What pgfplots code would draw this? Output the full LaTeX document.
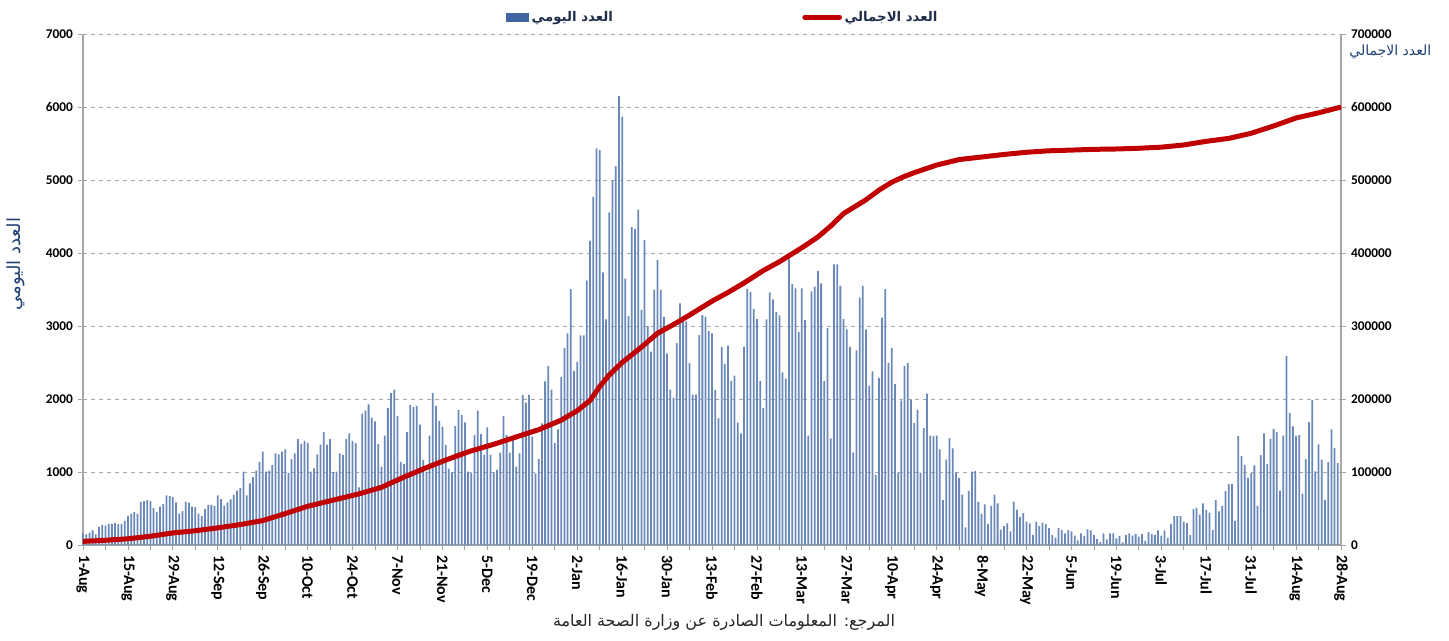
\documentclass[border=0pt]{standalone}
\usepackage{pgfplots}
\usepackage{pgfplotstable}
\pgfplotsset{compat=1.18}
\usepackage{fontspec}
\setmainfont{Carlito}
\newfontfamily\arabicfont[Script=Arabic]{DejaVu Sans}
\TeXXeTstate=1
\definecolor{barblue}{HTML}{6A88B8}
\definecolor{legblue}{HTML}{3F65A0}
\definecolor{linered}{HTML}{C00000}
\definecolor{labblue}{HTML}{1F3F73}
\definecolor{labdark}{HTML}{1F2D4A}
\definecolor{gridgray}{HTML}{A6A6A6}

% daily counts, 1-Aug-2020 ... 28-Aug-2021 (393 days)
\pgfplotstableread[row sep=\\]{
v\\
160\\146\\170\\200\\146\\250\\275\\265\\290\\290\\
300\\290\\290\\330\\400\\430\\450\\425\\590\\600\\
615\\600\\505\\450\\525\\560\\680\\670\\655\\585\\
430\\465\\590\\580\\525\\520\\430\\400\\490\\550\\
550\\535\\680\\630\\540\\585\\625\\685\\745\\780\\
1005\\680\\845\\930\\1020\\1140\\1280\\1005\\1020\\1095\\
1255\\1240\\1280\\1310\\985\\1175\\1255\\1450\\1385\\1425\\
1400\\1005\\1050\\1240\\1375\\1545\\1375\\1450\\
1000\\
1005\\1255\\1235\\1450\\1530\\1425\\1395\\790\\1800\\1840\\
1925\\1745\\1695\\1385\\1075\\1500\\1880\\2080\\2130\\1765\\
1140\\1110\\1545\\1920\\1890\\1905\\1650\\1165\\1005\\1500\\
2080\\1905\\1700\\1620\\1370\\1045\\990\\1630\\1850\\1780\\
1680\\1005\\990\\1505\\1840\\1520\\1235\\1610\\1235\\990\\
1030\\1265\\1765\\1505\\1265\\1440\\1075\\1255\\2055\\1950\\
2055\\1485\\980\\1175\\1665\\2240\\2450\\2130\\1395\\1585\\
2300\\
2700\\2900\\3505\\2385\\2510\\2870\\2870\\3620\\
4165\\4770\\5435\\5410\\3735\\3090\\4555\\4990\\5190\\6150\\
5870\\3650\\3135\\4355\\4330\\4595\\3220\\4175\\3000\\2650\\
3500\\3905\\3495\\3125\\2625\\2130\\2020\\2765\\3310\\3080\\
3065\\2490\\2060\\2060\\2875\\3150\\3130\\2930\\2900\\2125\\
1735\\2715\\2480\\2730\\2245\\2320\\1675\\1530\\2715\\3505\\
3465\\3235\\3095\\2245\\1875\\3090\\3460\\3365\\3190\\3145\\
2365\\2280\\3925\\3575\\3515\\2920\\3515\\3080\\1500\\3475\\
3540\\3755\\3585\\2245\\2970\\1460\\3845\\3845\\3550\\
3095\\2955\\2715\\1270\\2665\\3390\\3550\\2955\\2180\\2380\\
960\\2290\\3115\\3505\\2495\\2700\\2205\\995\\1980\\2450\\
2495\\1995\\1670\\1850\\990\\1600\\2075\\1500\\1490\\1500\\
1310\\615\\1170\\1465\\1325\\995\\920\\690\\240\\740\\
1005\\1015\\590\\425\\555\\290\\535\\690\\570\\210\\
260\\295\\185\\595\\485\\385\\435\\320\\295\\140\\
320\\260\\305\\285\\235\\135\\100\\235\\205\\160\\
205\\185\\130\\65\\160\\125\\215\\200\\135\\80\\
40\\160\\78\\160\\160\\90\\125\\35\\135\\160\\
130\\150\\115\\150\\55\\175\\150\\140\\200\\130\\
200\\95\\290\\395\\395\\395\\320\\300\\135\\490\\
510\\415\\570\\480\\445\\205\\615\\460\\535\\740\\
835\\835\\330\\1495\\1220\\1095\\920\\985\\1090\\535\\
1235\\1530\\1110\\1455\\1590\\1545\\740\\1500\\2590\\1810\\
1625\\1495\\1505\\705\\1175\\1685\\1985\\1010\\1380\\1170\\
615\\1135\\1585\\1330\\1120\\1315\\
}\daily

% cumulative total
\pgfplotstableread{
x y
0 5000
7 6500
14 8500
21 12000
28 16500
35 19500
42 23500
49 28000
56 33500
63 43000
70 53000
79 62600
86 70000
93 79000
100 93000
107 106000
114 118000
121 129000
128 138000
135 148000
142 158000
149 171000
154 184000
158 198000
161 217000
164 233000
168 250000
174 271000
179 290000
184 302000
189 315000
196 334000
201 346000
206 359000
212 376000
217 388000
221 399000
225 410000
229 422000
233 437000
237 454000
244 473000
248 486000
252 497000
256 505000
259 510000
266 520500
273 528000
280 531500
287 535000
294 538000
301 540000
308 541000
315 542000
322 542500
329 543500
336 545000
343 548000
350 553000
357 557000
364 564000
371 574000
378 585000
385 592000
392 600000
}\cumul

\begin{document}
\begin{tikzpicture}
\path[use as bounding box] (-62.25pt,-71.25pt) rectangle (1024.5pt,408.75pt);
\begin{axis}[
  scale only axis, width=943.5pt, height=383.25pt,
  xmin=0, xmax=392, ymin=0, ymax=7000,
  axis x line*=bottom, axis y line*=left,
  axis line style={gridgray, line width=0.8pt},
  xtick={0,14,...,392},
  xticklabels={1-Aug,15-Aug,29-Aug,12-Sep,26-Sep,10-Oct,24-Oct,7-Nov,21-Nov,5-Dec,19-Dec,2-Jan,16-Jan,30-Jan,13-Feb,27-Feb,13-Mar,27-Mar,10-Apr,24-Apr,8-May,22-May,5-Jun,19-Jun,3-Jul,17-Jul,31-Jul,14-Aug,28-Aug},
  minor xtick={7,21,...,385},
  x tick label style={rotate=-90, anchor=west, font=\fontsize{12}{14}\selectfont\bfseries},
  ytick={0,1000,...,7000},
  y tick label style={font=\fontsize{10}{12}\selectfont\bfseries},
  tick align=outside, major tick length=4pt, minor tick length=4pt,
  tick style={gridgray, line width=0.6pt},
  ymajorgrids, grid style={dashed, gridgray, line width=0.6pt},
  /pgf/number format/assume math mode=true,
  /pgf/number format/1000 sep={},
  scaled y ticks=false,
  clip=false,
  ylabel={\arabicfont\beginR العدد اليومي\endR},
  ylabel style={at={(axis description cs:-0.053,0.55)}, anchor=center, font=\fontsize{13.5}{15}\selectfont, text=labblue},
]
\addplot[ybar, bar width=0.55, bar shift=0pt, fill=barblue, draw=none]
  table[x expr=\coordindex, y=v] {\daily};
\end{axis}
\begin{axis}[
  scale only axis, width=943.5pt, height=383.25pt,
  xmin=0, xmax=392, ymin=0, ymax=700000,
  axis x line=none, axis y line*=right,
  axis line style={gridgray, line width=0.8pt},
  ytick={0,100000,...,700000},
  y tick label style={font=\fontsize{10}{12}\selectfont\bfseries},
  tick align=outside, major tick length=4pt,
  tick style={gridgray, line width=0.6pt},
  /pgf/number format/assume math mode=true,
  /pgf/number format/1000 sep={},
  /pgf/number format/fixed,
  scaled y ticks=false,
  clip=false,
  legend columns=2,
  legend style={draw=none, fill=none, at={(0.509,1.033)}, anchor=center,
    font=\arabicfont\bfseries\fontsize{10}{12}\selectfont, text=labdark,
    /tikz/every even column/.append style={column sep=140pt}},
]
\addlegendimage{legend image code/.code={\fill[legblue] (0pt,-3pt) rectangle (16.5pt,3pt);}}
\addlegendentry{\beginR العدد اليومي\endR}
\addplot[linered, line width=3.75pt, line join=round,
  legend image code/.code={\draw[linered, line width=3.75pt, line cap=round] (0pt,0pt) -- (26pt,0pt);}]
  table[x=x, y=y] {\cumul};
\addlegendentry{\beginR العدد الاجمالي\endR}
\node[text=labblue, font=\arabicfont\fontsize{10.5}{12}\selectfont, anchor=center]
  at (rel axis cs:1,1) [xshift=37pt, yshift=-13.5pt] {\beginR العدد الاجمالي\endR};
\node[text=black!85, font=\arabicfont\fontsize{12}{14}\selectfont, anchor=center]
  at (rel axis cs:0.5,0) [xshift=9pt, yshift=-57.75pt] {\beginR المرجع: المعلومات الصادرة عن وزارة الصحة العامة\endR};
\end{axis}
\end{tikzpicture}
\end{document}
